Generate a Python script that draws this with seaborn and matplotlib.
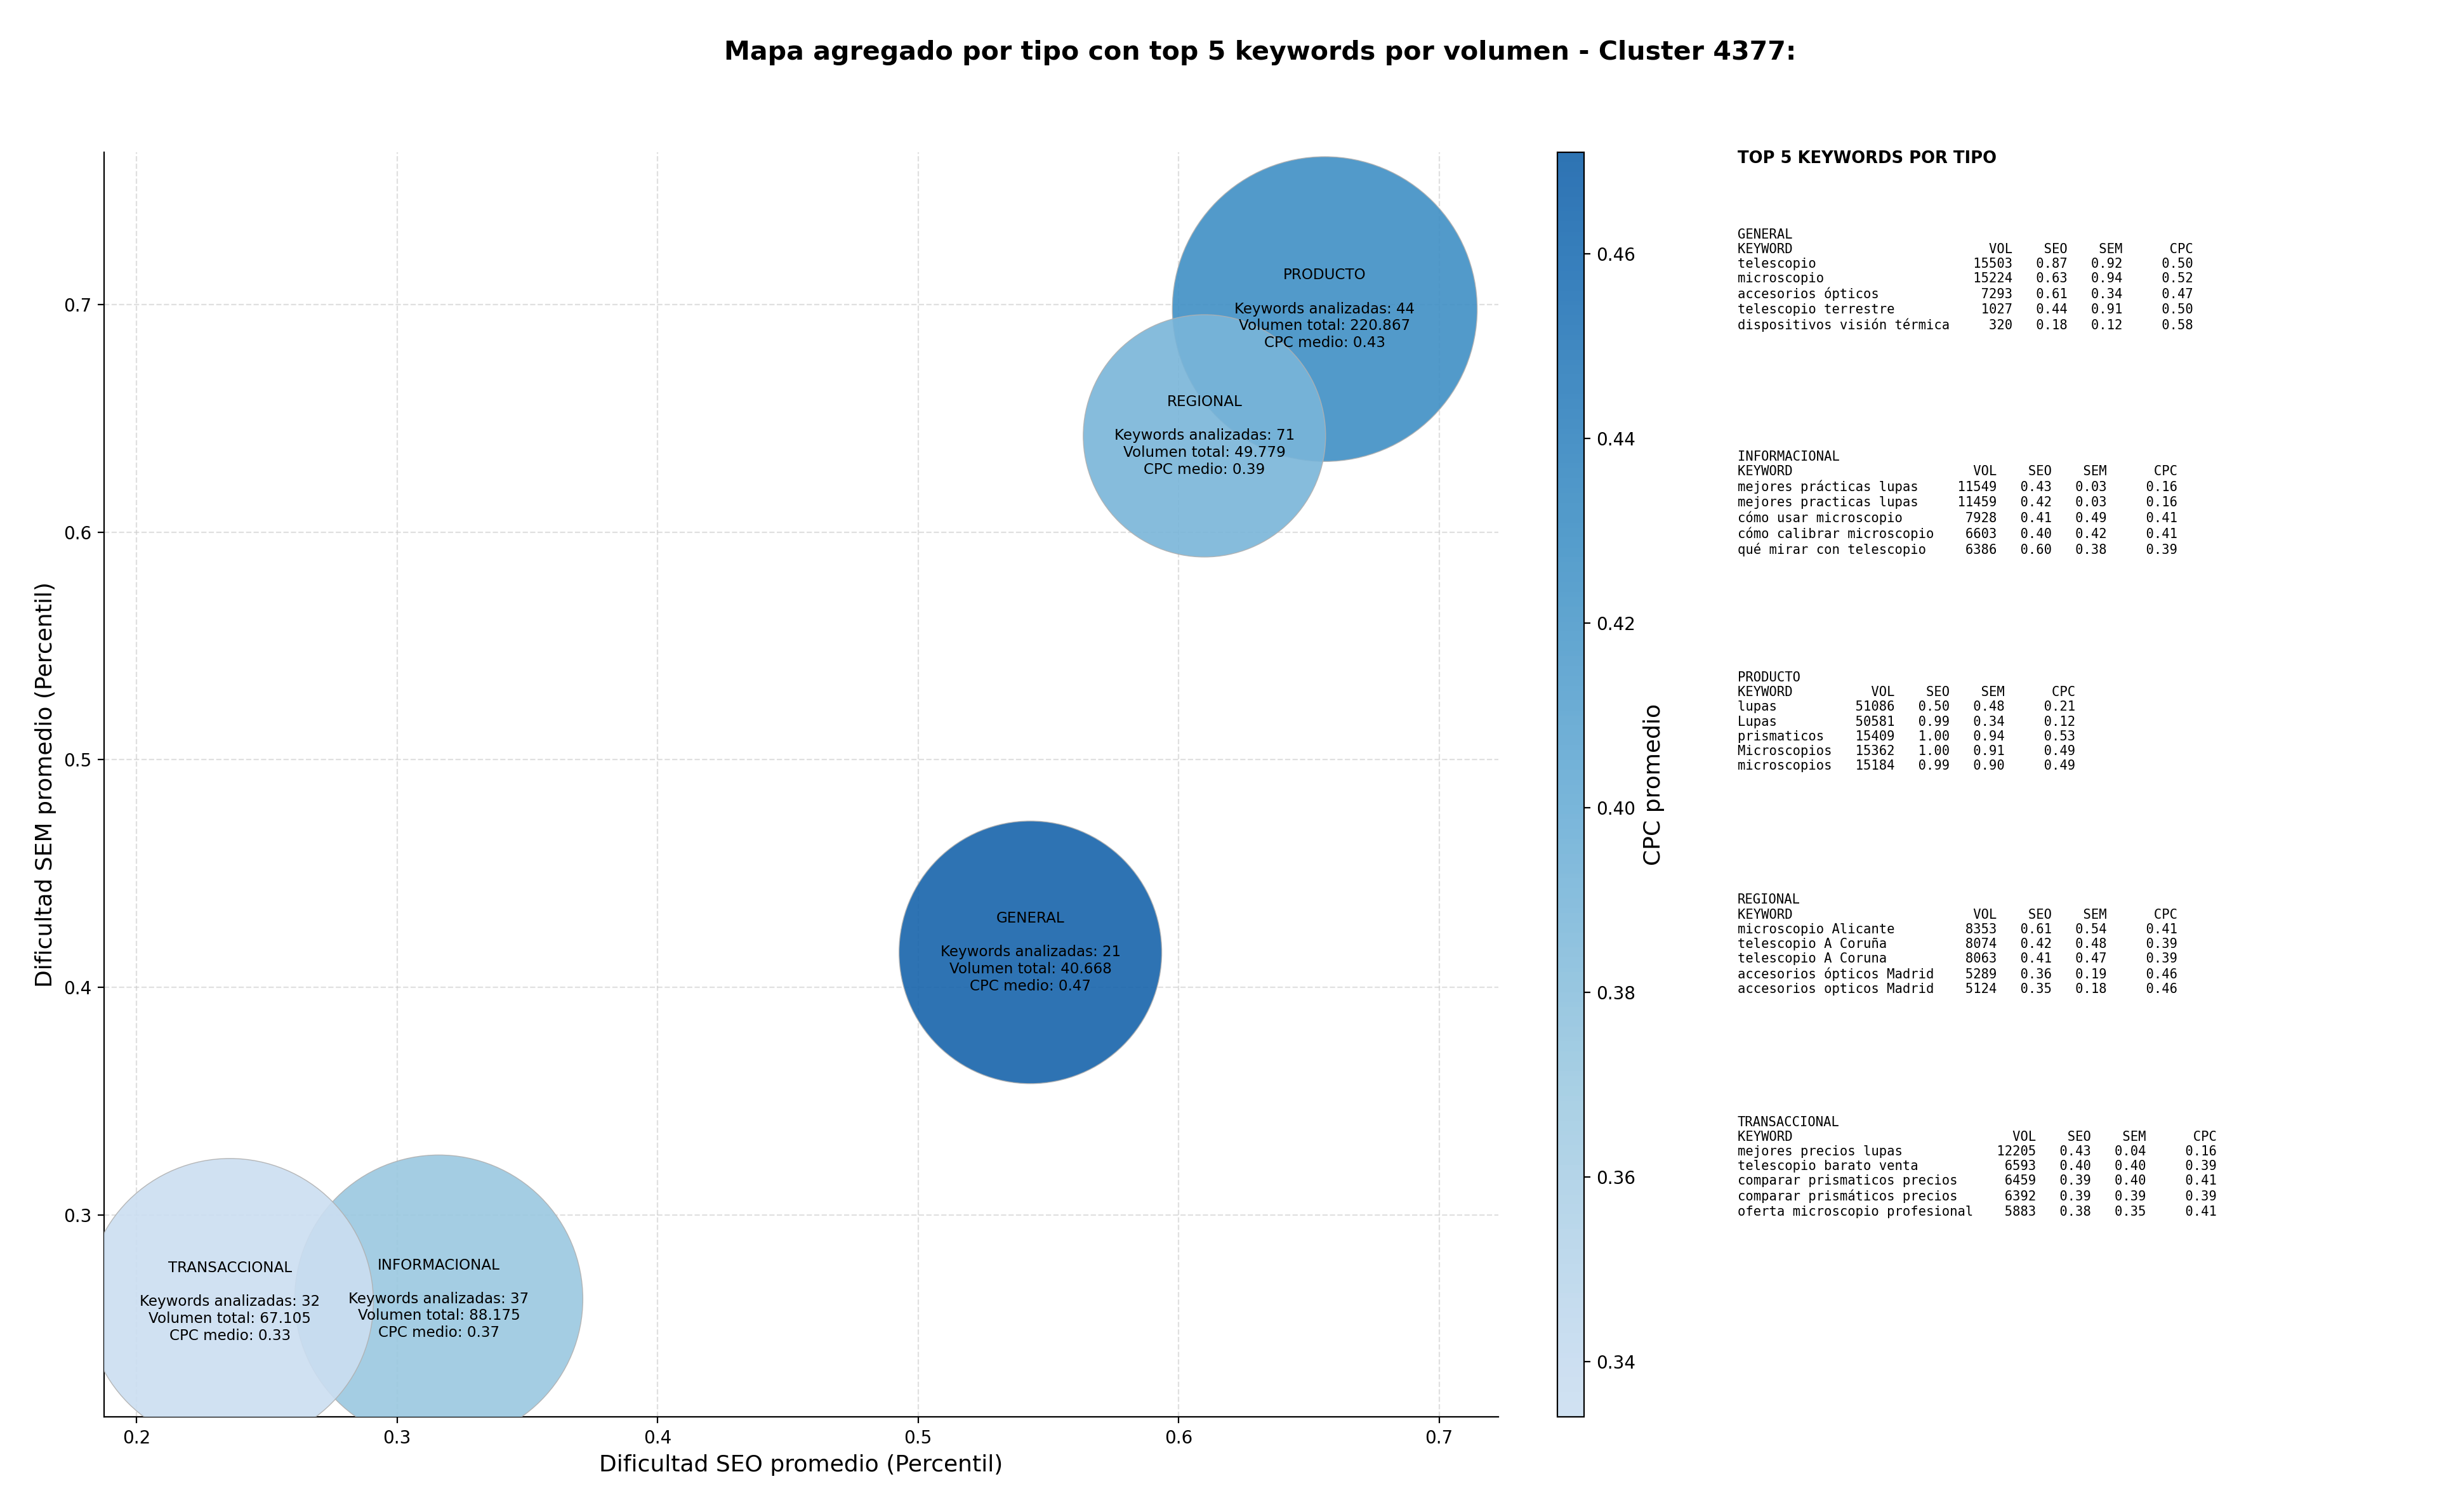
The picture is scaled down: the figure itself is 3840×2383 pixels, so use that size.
import numpy as np
import pandas as pd
import matplotlib
matplotlib.use("Agg")
import matplotlib.pyplot as plt
from matplotlib.colors import ListedColormap, Normalize
import seaborn as sns

# ---------------- data ----------------
tipos = ["GENERAL", "INFORMACIONAL", "PRODUCTO", "REGIONAL", "TRANSACCIONAL"]
seo_medio = [0.5431, 0.3160, 0.6561, 0.6099, 0.2358]
sem_medio = [0.4154, 0.2631, 0.6980, 0.6423, 0.2618]
cpc_medio = [0.471, 0.372, 0.431, 0.392, 0.334]
n_keywords = [21, 37, 44, 71, 32]
vol_total = [40668, 88175, 220867, 49779, 67105]
tam_burbuja = [22200, 26700, 29900, 18900, 26500]   # relative bubble size

top_kw = {
    "GENERAL": [
        ("telescopio", 15503, 0.87, 0.92, 0.50),
        ("microscopio", 15224, 0.63, 0.94, 0.52),
        ("accesorios ópticos", 7293, 0.61, 0.34, 0.47),
        ("telescopio terrestre", 1027, 0.44, 0.91, 0.50),
        ("dispositivos visión térmica", 320, 0.18, 0.12, 0.58),
    ],
    "INFORMACIONAL": [
        ("mejores prácticas lupas", 11549, 0.43, 0.03, 0.16),
        ("mejores practicas lupas", 11459, 0.42, 0.03, 0.16),
        ("cómo usar microscopio", 7928, 0.41, 0.49, 0.41),
        ("cómo calibrar microscopio", 6603, 0.40, 0.42, 0.41),
        ("qué mirar con telescopio", 6386, 0.60, 0.38, 0.39),
    ],
    "PRODUCTO": [
        ("lupas", 51086, 0.50, 0.48, 0.21),
        ("Lupas", 50581, 0.99, 0.34, 0.12),
        ("prismaticos", 15409, 1.00, 0.94, 0.53),
        ("Microscopios", 15362, 1.00, 0.91, 0.49),
        ("microscopios", 15184, 0.99, 0.90, 0.49),
    ],
    "REGIONAL": [
        ("microscopio Alicante", 8353, 0.61, 0.54, 0.41),
        ("telescopio A Coruña", 8074, 0.42, 0.48, 0.39),
        ("telescopio A Coruna", 8063, 0.41, 0.47, 0.39),
        ("accesorios ópticos Madrid", 5289, 0.36, 0.19, 0.46),
        ("accesorios opticos Madrid", 5124, 0.35, 0.18, 0.46),
    ],
    "TRANSACCIONAL": [
        ("mejores precios lupas", 12205, 0.43, 0.04, 0.16),
        ("telescopio barato venta", 6593, 0.40, 0.40, 0.39),
        ("comparar prismaticos precios", 6459, 0.39, 0.40, 0.41),
        ("comparar prismáticos precios", 6392, 0.39, 0.39, 0.39),
        ("oferta microscopio profesional", 5883, 0.38, 0.35, 0.41),
    ],
}

df = pd.DataFrame({
    "tipo": tipos, "seo": seo_medio, "sem": sem_medio, "cpc": cpc_medio,
    "n": n_keywords, "vol": vol_total, "tam": tam_burbuja,
})

# ---------------- style ----------------
ALPHA = 0.9
base = plt.get_cmap("Blues")
cmap = ListedColormap(base(np.linspace(0.225, 0.8, 256)))
norm = Normalize(vmin=min(cpc_medio), vmax=max(cpc_medio))
rgb = cmap(np.linspace(0, 1, 256))[:, :3]
cmap_vis = ListedColormap(ALPHA * rgb + (1 - ALPHA) * 1.0)

fig = plt.figure(figsize=(19.2, 11.915), dpi=200)
ax = fig.add_axes([0.0427, 0.0629, 0.5721, 0.8364])
cax = fig.add_axes([0.639, 0.0629, 0.011, 0.8364])

smin, smax = min(tam_burbuja), max(tam_burbuja)
sns.scatterplot(
    data=df, x="seo", y="sem", hue="cpc", palette=cmap, hue_norm=norm,
    size="tam", sizes=(smin, smax), size_norm=(smin, smax),
    alpha=ALPHA, edgecolor="#b0b0b0", linewidth=0.5, legend=False, ax=ax,
    zorder=3,
)

def fmt_vol(v):
    return f"{v:,}".replace(",", ".")

for _, r in df.iterrows():
    txt = (f"{r['tipo']}\n\nKeywords analizadas: {r['n']}\n"
           f"Volumen total: {fmt_vol(r['vol'])}\nCPC medio: {r['cpc']:.2f}")
    ax.text(r["seo"], r["sem"], txt, ha="center", va="center", fontsize=8.3,
            zorder=5, color="black")

ax.set_xlim(0.1875, 0.7227)
ax.set_ylim(0.2113, 0.7669)
ax.set_xticks([0.2, 0.3, 0.4, 0.5, 0.6, 0.7])
ax.set_yticks([0.3, 0.4, 0.5, 0.6, 0.7])
ax.grid(True, linestyle="--", color="#cccccc", alpha=0.6, linewidth=0.8)
ax.set_axisbelow(True)
sns.despine(ax=ax)
ax.set_xlabel("Dificultad SEO promedio (Percentil)", fontsize=13)
ax.set_ylabel("Dificultad SEM promedio (Percentil)", fontsize=13)
ax.tick_params(labelsize=10)

sm = plt.cm.ScalarMappable(cmap=cmap_vis, norm=norm)
sm.set_array([])
cb = fig.colorbar(sm, cax=cax)
cb.set_label("CPC promedio", fontsize=13)
cb.set_ticks([0.34, 0.36, 0.38, 0.40, 0.42, 0.44, 0.46])
cb.ax.tick_params(labelsize=10)

fig.text(0.517, 0.965, "Mapa agregado por tipo con top 5 keywords por volumen - Cluster 4377:",
         ha="center", va="center", fontsize=14.8, fontweight="bold")

# ---------------- right text panel ----------------
fig.text(0.713, 0.9005, "TOP 5 KEYWORDS POR TIPO", ha="left", va="top",
         fontsize=9.3, fontweight="bold")
block_tops = [0.849, 0.702, 0.556, 0.409, 0.262]
for tipo, ytop in zip(tipos, block_tops):
    rows = top_kw[tipo]
    w = max(len(k[0]) for k in rows)
    lines = [tipo, f"{'KEYWORD':<{w}}{'VOL':>8}{'SEO':>7}{'SEM':>7}{'CPC':>9}"]
    for kw, vol, seo, sem, cpc in rows:
        lines.append(f"{kw:<{w}}{vol:>8}{seo:>7.2f}{sem:>7.2f}{cpc:>9.2f}")
    fig.text(0.713, ytop, "\n".join(lines), ha="left", va="top",
             fontsize=7.4, family="DejaVu Sans Mono")

fig.savefig("out.png", dpi=200)
